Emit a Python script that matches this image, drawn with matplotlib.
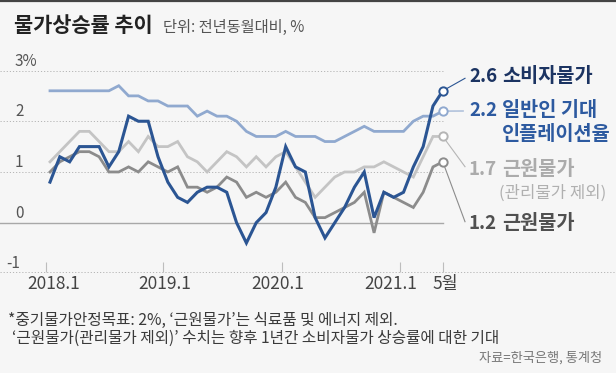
import matplotlib
matplotlib.use('Agg')
import matplotlib.pyplot as plt
from matplotlib.lines import Line2D

plt.rcParams['font.family'] = ['Noto Sans CJK KR', 'DejaVu Sans']

# 2018.1 ~ 2021.5 (41개월), 전년동월대비 %
months = list(range(41))
cpi = [0.8, 1.3, 1.2, 1.5, 1.5, 1.5, 1.1, 1.4, 2.1, 2.0, 2.0, 1.3,
       0.8, 0.5, 0.4, 0.6, 0.7, 0.7, 0.6, 0.0, -0.4, 0.0, 0.2, 0.7,
       1.5, 1.1, 1.0, 0.1, -0.3, 0.0, 0.3, 0.7, 1.0, 0.1, 0.6, 0.5,
       0.6, 1.1, 1.5, 2.3, 2.6]
expect = [2.6, 2.6, 2.6, 2.6, 2.6, 2.6, 2.6, 2.7, 2.5, 2.5, 2.4, 2.4,
          2.3, 2.3, 2.3, 2.1, 2.2, 2.1, 2.1, 2.0, 1.8, 1.7, 1.7, 1.7,
          1.8, 1.7, 1.7, 1.7, 1.6, 1.6, 1.7, 1.8, 1.9, 1.8, 1.8, 1.8,
          1.8, 2.0, 2.1, 2.1, 2.2]
core_ex = [1.2, 1.4, 1.6, 1.8, 1.8, 1.6, 1.4, 1.4, 1.6, 1.4, 1.7, 1.5,
           1.5, 1.6, 1.3, 1.2, 1.0, 1.2, 1.4, 1.3, 1.1, 1.3, 1.1, 1.3,
           1.4, 1.1, 0.8, 0.5, 0.7, 0.9, 1.0, 1.0, 1.1, 1.1, 1.2, 1.1,
           1.0, 0.9, 1.3, 1.7, 1.7]
core = [1.0, 1.2, 1.3, 1.4, 1.4, 1.3, 1.0, 1.0, 1.1, 1.0, 1.2, 1.1,
        1.0, 1.1, 0.7, 0.7, 0.6, 0.7, 0.9, 0.8, 0.5, 0.6, 0.5, 0.6,
        0.8, 0.5, 0.4, 0.1, 0.1, 0.2, 0.3, 0.4, 0.6, -0.2, 0.6, 0.5,
        0.4, 0.3, 0.6, 1.1, 1.2]

tick_labels = ['2018.1', '2019.1', '2020.1', '2021.1', '5월']
y_ticks = [3, 2, 1, 0, -1]

W, H = 616, 373
BG = '#f6f6f6'
C_CPI = '#2b5593'
C_EXP = '#90a9cf'
C_CEX = '#c4c4c4'
C_CORE = '#8c8c8c'

fig = plt.figure(figsize=(W / 100, H / 100), dpi=100, facecolor=BG)
ax = fig.add_axes([0, 0, 1, 1])
ax.set_facecolor(BG)
ax.axis('off')

# pixel <-> data
x0, ppm = 50.0, 9.82
y0, ppu = 222.7, 50.73
ax.set_xlim(-x0 / ppm, (W - x0) / ppm)
ax.set_ylim((y0 - H) / ppu, y0 / ppu)


def dx(p):
    return (p - x0) / ppm


def dy(p):
    return (y0 - p) / ppu


def ftext(x, y, s, **kw):
    fig.text(x / W, 1 - y / H, s, va='center', **kw)


# grid
xl = ax.get_xlim()[0]
for v in [1, 2, 3]:
    ax.plot([xl, 40], [v, v], ls=(0, (1.2, 2)), color='#b5b5b5', lw=0.7)
ax.plot([xl, 40], [0, 0], color='#a8a8a8', lw=1)
ax.plot([xl, ax.get_xlim()[1]], [dy(271.5)] * 2, ls=(0, (1.2, 2)), color='#b5b5b5', lw=0.7)

for t, lab in zip(y_ticks, ['3%', '2', '1', '0', '-1']):
    ftext(15 if t >= 0 else 6.5, (y0 - t * ppu) - 9.5 if t > -1 else 263.5, lab,
          fontsize=11, color='#555555', ha='left')

# x ticks
tick_pos = [dx(45.7), dx(163.3), dx(281.7), dx(399.5), 40]
ax.vlines(tick_pos, dy(271.5), dy(261.5), color='#bdbdbd', lw=0.8)
for xp, lab in zip([54, 165, 277.5, 390.7, 445.7], tick_labels):
    ftext(xp, 284, lab, fontsize=12.5, color='#444444', ha='center',
          family=['Liberation Sans Narrow', 'Noto Sans CJK KR', 'DejaVu Sans'])

# series
ax.plot(months, expect, color=C_EXP, lw=2, solid_joinstyle='miter')
ax.plot(months, core_ex, color=C_CEX, lw=2, solid_joinstyle='miter')
ax.plot(months, core, color=C_CORE, lw=2, solid_joinstyle='miter')
ax.plot(months, cpi, color=C_CPI, lw=2.2, solid_joinstyle='miter')

# end markers + leader lines
ends = [(cpi, C_CPI, 465, 78.3), (expect, C_EXP, 463.3, 111),
        (core_ex, '#b5b5b5', 465, 166.7), (core, '#8c8c8c', 465, 221.7)]
for s, c, lx, ly in ends:
    ax.plot([40, dx(lx)], [s[-1], dy(ly)], color=c, lw=0.8)
    ax.plot(40, s[-1], 'o', mfc='white', mec=c, ms=6, mew=1.4)

# right labels
NS, VS = 13.5, 14.2
ftext(469, 76, f'{cpi[-1]:.1f}', fontsize=NS, fontweight='bold', color='#1c3462')
ftext(501.7, 76, '소비자물가', fontsize=VS, fontweight='bold', color='#1c3462')
ftext(469, 110, f'{expect[-1]:.1f}', fontsize=NS, fontweight='bold', color='#2d5aa0')
ftext(501.7, 110, '일반인 기대', fontsize=VS, fontweight='bold', color='#2d5aa0')
ftext(501.7, 134, '인플레이션율', fontsize=VS, fontweight='bold', color='#2d5aa0')
ftext(469, 169, f'{core_ex[-1]:.1f}', fontsize=NS, fontweight='bold', color='#ababab')
ftext(501.7, 169, '근원물가', fontsize=VS, fontweight='bold', color='#ababab')
ftext(499, 193, '(관리물가 제외)', fontsize=12, color='#b0b0b0')
ftext(469, 224, f'{core[-1]:.1f}', fontsize=NS, fontweight='bold', color='#505050')
ftext(501.7, 224, '근원물가', fontsize=VS, fontweight='bold', color='#505050')

# title
ftext(14, 25.5, '물가상승률 추이', fontsize=15, fontweight='bold', color='#222222')
ftext(163, 27, '단위: 전년동월대비, %', fontsize=11, color='#555555')

# notes
ftext(8, 320, '*중기물가안정목표: 2%, ‘근원물가’는 식료품 및 에너지 제외.',
      fontsize=11.3, color='#3a3a3a')
ftext(12, 338, '‘근원물가(관리물가 제외)’ 수치는 향후 1년간 소비자물가 상승률에 대한 기대',
      fontsize=11.3, color='#3a3a3a')
ftext(602, 358, '자료=한국은행, 통계청', fontsize=9.5, color='#777777', ha='right')

fig.add_artist(Line2D([0, 1], [1 - 0.8 / H] * 2, color='#444444', lw=1.6))

fig.savefig('out.png', dpi=100, facecolor=BG)
